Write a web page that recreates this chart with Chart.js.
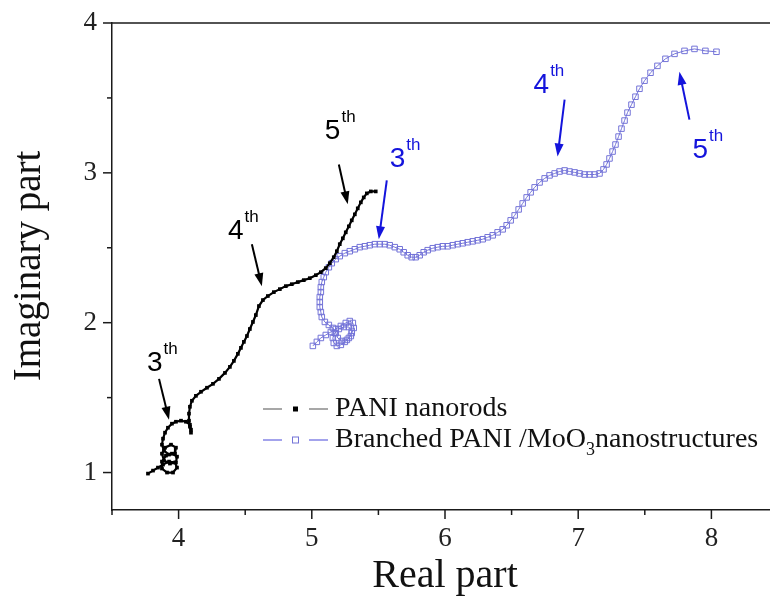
<!DOCTYPE html>
<html>
<head>
<meta charset="utf-8">
<script src="https://cdn.jsdelivr.net/npm/chart.js@4"></script>
<style>
  html, body { margin:0; padding:0; background:#fff; overflow:hidden; }
  #wrap { width:770px; height:603px; overflow:hidden; }
</style>
</head>
<body>
<div id="wrap"><canvas id="chart" width="790" height="603"></canvas></div>
<script>
// PANI nanorods (black)
const paniReal = [3.770,3.808,3.845,3.883,3.928,3.973,3.988,3.958,3.913,3.875,
  3.875,3.905,3.950,3.988,3.980,3.935,3.890,3.875,3.898,3.943,
  3.980,3.973,3.928,3.890,3.875,3.883,3.898,3.920,3.950,
  3.980,4.018,4.055,4.085,4.093,4.093,4.085,4.078,4.078,4.085,4.100,4.130,4.168,
  4.213,4.258,4.303,4.348,4.385,4.415,4.445,4.468,4.490,4.513,
  4.535,4.558,4.580,4.603,4.633,4.670,4.715,4.760,4.805,4.850,
  4.895,4.940,4.985,5.030,5.068,5.105,5.135,5.165,5.188,5.210,
  5.233,5.255,5.278,5.300,5.323,5.345,5.368,5.390,5.413,5.443,5.480];
const paniImag = [0.993,1.013,1.033,1.053,1.073,1.067,1.033,1.000,1.000,1.027,
  1.073,1.113,1.126,1.106,1.067,1.060,1.080,1.126,1.166,1.186,
  1.166,1.126,1.120,1.146,1.186,1.226,1.266,1.299,1.326,
  1.339,1.346,1.339,1.319,1.286,1.266,1.306,1.346,1.393,1.439,1.479,1.512,1.539,
  1.566,1.592,1.625,1.665,1.705,1.745,1.792,1.832,1.872,1.911,
  1.958,2.005,2.051,2.111,2.151,2.178,2.204,2.224,2.244,2.257,
  2.271,2.284,2.297,2.317,2.337,2.364,2.397,2.437,2.477,2.524,
  2.563,2.603,2.643,2.683,2.723,2.763,2.803,2.836,2.863,2.876,2.876];

// Branched PANI/MoO3 nanostructures (blue)
const mooReal = [5.008,5.038,5.068,5.105,5.143,5.180,5.218,5.255,5.285,5.308,
  5.315,5.300,5.278,5.248,5.218,5.188,5.165,5.158,5.173,5.203,
  5.240,5.278,5.300,5.293,5.263,5.225,5.195,5.180,5.158,5.128,
  5.098,5.075,5.068,5.060,5.060,5.060,5.068,5.068,5.075,5.090,
  5.105,5.128,5.150,5.180,5.210,5.248,5.285,5.323,5.360,5.398,
  5.435,5.473,5.510,5.548,5.585,5.623,5.660,5.690,5.720,5.750,
  5.780,5.810,5.840,5.870,5.908,5.945,5.983,6.020,6.058,6.095,
  6.133,6.170,6.208,6.245,6.283,6.320,6.358,6.395,6.433,6.463,
  6.493,6.523,6.553,6.583,6.613,6.643,6.673,6.710,6.748,6.785,
  6.823,6.860,6.898,6.935,6.973,7.010,7.048,7.085,7.123,7.160,
  7.190,7.213,7.235,7.258,7.280,7.303,7.325,7.348,7.370,7.400,
  7.430,7.460,7.498,7.543,7.595,7.655,7.723,7.798,7.873,7.955,8.038];
const mooImag = [1.845,1.872,1.898,1.918,1.938,1.958,1.978,1.998,2.011,1.998,
  1.965,1.931,1.898,1.872,1.852,1.845,1.865,1.898,1.931,1.958,
  1.971,1.971,1.945,1.911,1.885,1.878,1.898,1.931,1.965,1.985,
  2.005,2.038,2.071,2.104,2.138,2.171,2.204,2.237,2.271,2.304,
  2.337,2.370,2.397,2.424,2.444,2.464,2.477,2.490,2.504,2.510,
  2.517,2.524,2.524,2.524,2.517,2.504,2.490,2.470,2.450,2.437,
  2.437,2.450,2.470,2.484,2.497,2.504,2.510,2.510,2.517,2.524,
  2.530,2.537,2.543,2.550,2.557,2.570,2.583,2.603,2.623,2.650,
  2.683,2.716,2.756,2.796,2.836,2.870,2.903,2.936,2.963,2.983,
  2.996,3.009,3.016,3.009,3.003,2.996,2.989,2.989,2.989,2.996,
  3.023,3.056,3.096,3.142,3.189,3.242,3.295,3.349,3.402,3.455,
  3.508,3.561,3.615,3.668,3.714,3.761,3.794,3.814,3.827,3.814,3.808];

const xRange = [3.5, 8.5];
const yRange = [0.75, 4];

// arrow annotations: label anchor, arrow tail, arrow tip (data units)
const notes = [
  { num:'3', color:'#000',    at:[3.763,1.679], from:[3.853,1.625], to:[3.928,1.353] },
  { num:'4', color:'#000',    at:[4.370,2.557], from:[4.550,2.524], to:[4.625,2.244] },
  { num:'5', color:'#000',    at:[5.098,3.229], from:[5.203,3.056], to:[5.270,2.790] },
  { num:'3', color:'#1414dc', at:[5.585,3.036], from:[5.563,2.949], to:[5.503,2.557] },
  { num:'4', color:'#1414dc', at:[6.665,3.535], from:[6.898,3.488], to:[6.845,3.109] },
  { num:'5', color:'#1414dc', at:[7.858,3.102], from:[7.835,3.355], to:[7.760,3.674] }
];

const SERIF = '"Liberation Serif", "Times New Roman", serif';
const SANS  = '"Liberation Sans", Arial, sans-serif';
const INK   = '#1a1a1a';
const BLUE_SERIES = '#7474d8';

const zip = (xs, ys) => xs.map((v, i) => ({ x: v, y: ys[i] }));

function seg(ctx, x1, y1, x2, y2) { ctx.beginPath(); ctx.moveTo(x1, y1); ctx.lineTo(x2, y2); ctx.stroke(); }

const decor = {
  id: 'decor',
  afterDraw(chart) {
    const { ctx, chartArea: a, scales: { x, y } } = chart;
    ctx.save();
    ctx.strokeStyle = INK; ctx.lineWidth = 1.5;
    seg(ctx, a.left, a.top, a.right, a.top);

    // major / minor ticks
    const isHalf = v => Math.abs(v * 2 - Math.round(v * 2)) < 1e-6;
    const isInt  = v => Math.abs(v - Math.round(v)) < 1e-6;
    x.ticks.forEach(t => {
      if (!isHalf(t.value)) return;
      const p = x.getPixelForValue(t.value), len = isInt(t.value) ? 9 : 5;
      seg(ctx, p, a.bottom, p, a.bottom + len);
    });
    y.ticks.forEach(t => {
      if (!isHalf(t.value)) return;
      const p = y.getPixelForValue(t.value), len = isInt(t.value) ? 9 : 5;
      seg(ctx, a.left - len, p, a.left, p);
    });

    // axis titles
    ctx.fillStyle = '#111';
    ctx.textAlign = 'center'; ctx.textBaseline = 'middle';
    ctx.font = '40px ' + SERIF;
    ctx.fillText('Real part', (a.left + a.right) / 2, 576);
    ctx.save();
    ctx.font = '39px ' + SERIF;
    ctx.translate(30, 266); ctx.rotate(-Math.PI / 2);
    ctx.fillText('Imaginary part', 0, 0);
    ctx.restore();

    // annotations
    notes.forEach(n => {
      const lx = x.getPixelForValue(n.at[0]), ly = y.getPixelForValue(n.at[1]);
      ctx.fillStyle = n.color; ctx.strokeStyle = n.color;
      ctx.textAlign = 'left'; ctx.textBaseline = 'alphabetic';
      ctx.font = '28px ' + SANS;
      ctx.fillText(n.num, lx, ly);
      const w = ctx.measureText(n.num).width;
      ctx.font = '17px ' + SANS;
      ctx.fillText('th', lx + w + 1, ly - 17);

      const x1 = x.getPixelForValue(n.from[0]), y1 = y.getPixelForValue(n.from[1]);
      const x2 = x.getPixelForValue(n.to[0]),   y2 = y.getPixelForValue(n.to[1]);
      const ang = Math.atan2(y2 - y1, x2 - x1), hl = 13, hw = 4.5;
      ctx.lineWidth = 2;
      seg(ctx, x1, y1, x2 - Math.cos(ang) * hl * 0.8, y2 - Math.sin(ang) * hl * 0.8);
      ctx.beginPath();
      ctx.moveTo(x2, y2);
      ctx.lineTo(x2 - Math.cos(ang) * hl - Math.sin(ang) * hw, y2 - Math.sin(ang) * hl + Math.cos(ang) * hw);
      ctx.lineTo(x2 - Math.cos(ang) * hl + Math.sin(ang) * hw, y2 - Math.sin(ang) * hl - Math.cos(ang) * hw);
      ctx.closePath(); ctx.fill();
    });

    // legend
    const lg = [
      { line:'#8a8a8a', mark:'#000', fill:true,  y:409 },
      { line:'#8585e6', mark:BLUE_SERIES, fill:false, y:440 }
    ];
    lg.forEach((r, i) => {
      ctx.strokeStyle = r.line; ctx.lineWidth = 1.5;
      seg(ctx, 263, r.y, 282, r.y);
      seg(ctx, 309, r.y, 328, r.y);
      if (r.fill) { ctx.fillStyle = r.mark; ctx.fillRect(293, r.y - 2.5, 5, 5); }
      else { ctx.strokeStyle = r.mark; ctx.lineWidth = 1; ctx.strokeRect(292.5, r.y - 3, 6, 6); }
      ctx.fillStyle = '#111'; ctx.textAlign = 'left'; ctx.textBaseline = 'middle';
      ctx.font = '28px ' + SERIF;
      if (i === 0) {
        ctx.fillText('PANI nanorods', 335, r.y);
      } else {
        let tx = 335;
        const a1 = 'Branched PANI /MoO';
        ctx.fillText(a1, tx, r.y); tx += ctx.measureText(a1).width;
        ctx.font = '18px ' + SERIF;
        ctx.fillText('3', tx, r.y + 10); tx += ctx.measureText('3').width;
        ctx.font = '28px ' + SERIF;
        ctx.fillText('nanostructures', tx, r.y);
      }
    });
    ctx.restore();
  }
};

new Chart(document.getElementById('chart'), {
  type: 'scatter',
  data: {
    datasets: [
      {
        label: 'PANI nanorods',
        data: zip(paniReal, paniImag),
        showLine: true,
        borderColor: '#000', borderWidth: 2.2,
        pointStyle: 'rect', pointRadius: 2.6,
        pointBackgroundColor: '#000', pointBorderColor: '#000', pointBorderWidth: 0
      },
      {
        label: 'Branched PANI /MoO3nanostructures',
        data: zip(mooReal, mooImag),
        showLine: true,
        borderColor: BLUE_SERIES, borderWidth: 1,
        pointStyle: 'rect', pointRadius: 3.9,
        pointBackgroundColor: 'rgba(255,255,255,0)', pointBorderColor: BLUE_SERIES, pointBorderWidth: 1
      }
    ]
  },
  options: {
    responsive: false,
    animation: false,
    devicePixelRatio: 1,
    layout: { padding: { left: 0, top: 23, right: 12, bottom: 0 } },
    plugins: { legend: { display: false }, tooltip: { enabled: false } },
    scales: {
      x: {
        type: 'linear', min: xRange[0], max: xRange[1],
        afterFit: s => { s.height = 93; s.paddingLeft = 0; s.paddingRight = 0; },
        grid: { display: false, drawTicks: false },
        border: { display: true, color: INK, width: 1.5 },
        ticks: {
          stepSize: 0.5, padding: 13, color: '#222', maxRotation: 0, autoSkip: false,
          font: { family: SERIF, size: 27 },
          callback: v => Math.abs(v - Math.round(v)) < 1e-6 ? String(Math.round(v)) : ''
        }
      },
      y: {
        type: 'linear', min: yRange[0], max: yRange[1],
        afterFit: s => { s.width = 112; s.paddingTop = 0; s.paddingBottom = 0; },
        grid: { display: false, drawTicks: false },
        border: { display: true, color: INK, width: 1.5 },
        ticks: {
          stepSize: 0.5, padding: 15, color: '#222', autoSkip: false,
          font: { family: SERIF, size: 27 },
          callback: v => Math.abs(v - Math.round(v)) < 1e-6 ? String(Math.round(v)) : ''
        }
      }
    }
  },
  plugins: [decor]
});
</script>
</body>
</html>
